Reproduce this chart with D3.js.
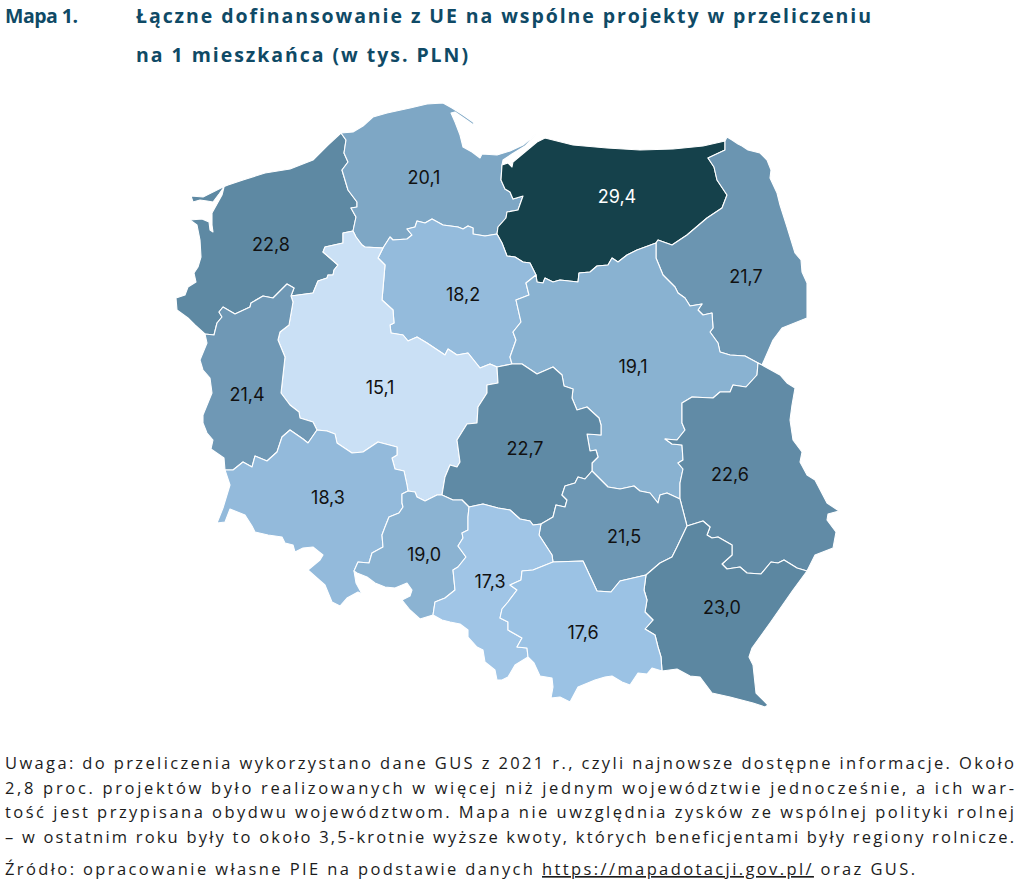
<!DOCTYPE html>
<html lang="pl">
<head>
<meta charset="utf-8">
<script src="https://cdn.jsdelivr.net/npm/d3@7"></script>
<style>
  body { margin: 0; background: #fff; }
  svg { display: block; }
  .title { font-family: "Open Sans", sans-serif; font-weight: 700; font-size: 19.5px; fill: #0f4a66; }
  .note { font-family: "Open Sans", sans-serif; font-size: 16.5px; fill: #1c1c1c; }
  .value { font-family: Inter, sans-serif; font-size: 18px; text-anchor: middle; }
</style>
</head>
<body>
<svg width="1024" height="887"></svg>
<script>
// region values, tys. PLN per inhabitant
var regions = ["zachodniopomorskie", "pomorskie", "warminsko-mazurskie", "podlaskie", "kujawsko-pomorskie", "mazowieckie", "wielkopolskie", "lubuskie", "lodzkie", "lubelskie", "swietokrzyskie", "podkarpackie", "dolnoslaskie", "opolskie", "slaskie", "malopolskie"];
var values = [22.8, 20.1, 29.4, 21.7, 18.2, 19.1, 15.1, 21.4, 22.7, 22.6, 21.5, 23.0, 18.3, 19.0, 17.3, 17.6];

// where each value label sits, in traced map units
var labelAnchors = [[271, 245], [424, 178], [617, 197], [746, 277], [463, 295], [633, 367], [380, 388], [247, 395], [525, 449], [730, 475], [624, 537], [722, 608], [328, 498], [424, 555], [490, 582], [583, 633]];

var zpWest = [[341,133],[328,145],[313,160],[290,169],[265,173],[243,180],[228,185],[223,187],[213,192],[203,197],[191,196],[193,202],[200,200],[207,201],[213,202],[219,194],[224,187],[222,195],[217,204],[212,213],[212,225],[213,232],[210,230],[209,222],[202,219],[190,220],[197,225],[200,240],[201,257],[198,267],[194,273],[196,282],[188,287],[185,295],[176,298],[177,310],[188,318],[195,325],[205,334]];
var pmCoast = [[341,133],[353,132],[363,126],[373,117],[387,113],[410,108],[427,104],[443,103],[452,108],[463,115],[473,122],[475,126],[468,121],[455,112],[451,113],[455,122],[460,135],[463,147],[472,152],[480,158],[482,154],[497,155],[510,151],[523,145],[537,133],[525,146],[512,154],[503,160],[502,165]];
var wmCoast = [[502,165],[508,163],[512,167],[513,162],[525,152],[537,142],[545,138],[573,145],[607,148],[640,150],[673,149],[703,146],[725,141]];
var pdEdge = [[725,141],[727,137],[732,140],[738,144],[742,146],[748,150],[760,153],[767,160],[771,170],[770,178],[777,193],[780,205],[787,227],[795,253],[801,260],[802,272],[807,283],[807,318],[782,328],[773,340],[762,365]];
var pdLu = [[762,365],[758,363]];
var pmZp = [[353,231],[356,217],[351,208],[357,207],[357,202],[348,190],[342,170],[348,162],[344,153],[346,140],[341,133]];
var pmWm = [[502,165],[501,180],[505,189],[510,192],[513,199],[523,196],[518,210],[507,212],[506,218],[498,227],[497,234]];
var pmKp = [[497,234],[485,236],[473,234],[473,228],[468,226],[463,229],[458,227],[443,225],[432,219],[425,223],[417,221],[415,227],[407,229],[412,235],[407,239],[393,240],[390,237],[383,248]];
var pmWp = [[383,248],[365,247],[362,245],[356,237],[353,231]];
var pdWm = [[725,141],[725,150],[708,158],[714,167],[717,180],[727,195],[722,208],[707,218],[687,235],[672,245],[658,240],[656,243]];
var pdMz = [[656,243],[656,258],[663,275],[675,287],[678,293],[685,298],[690,306],[702,304],[698,310],[703,315],[712,313],[713,328],[710,332],[718,343],[720,352],[730,355],[745,356],[758,363]];
var wmMz = [[656,243],[637,250],[627,255],[618,262],[612,258],[608,265],[597,266],[590,272],[579,273],[578,282],[560,280],[553,282],[545,278],[543,283],[537,282],[536,275]];
var wmKp = [[536,275],[530,263],[523,262],[515,257],[507,256],[502,243],[497,234]];
var zpWp = [[353,231],[343,233],[343,243],[325,247],[323,252],[338,265],[334,270],[333,275],[328,275],[327,278],[318,281],[313,293],[291,296]];
var zpLb = [[291,296],[294,288],[287,284],[273,298],[263,296],[251,303],[250,307],[235,314],[223,307],[219,312],[222,317],[217,323],[214,335],[205,334]];
var lbEdge = [[205,334],[207,343],[200,360],[203,370],[210,378],[212,393],[203,415],[203,423],[207,433],[213,440],[211,449],[224,458],[225,470]];
var lbWp = [[291,296],[293,302],[289,325],[280,332],[278,340],[285,357],[281,393],[290,405],[299,412],[300,418],[313,422],[317,430]];
var lbDs = [[317,430],[308,443],[303,439],[290,430],[282,437],[277,452],[267,461],[255,456],[252,467],[243,462],[233,470],[225,470]];
var wpDs = [[317,430],[327,431],[335,434],[337,443],[352,453],[363,452],[378,442],[397,447],[397,455],[392,458],[395,469],[404,471],[407,485],[408,491]];
var wpOp = [[408,491],[415,492],[417,497],[425,501],[437,495],[442,495]];
var wpLd = [[442,495],[445,477],[450,465],[457,467],[460,462],[457,440],[467,424],[477,423],[478,407],[487,393],[487,385],[498,383],[497,367]];
var wpKp = [[383,248],[378,258],[385,265],[382,300],[393,310],[394,323],[390,325],[391,333],[403,335],[408,341],[417,337],[427,343],[445,355],[448,349],[457,355],[468,353],[480,368],[490,364],[497,367]];
var kpLd = [[497,367],[512,364]];
var kpMz = [[536,275],[526,283],[529,295],[516,300],[521,322],[513,332],[516,340],[510,357],[512,364]];
var mzLd = [[512,364],[522,364],[537,374],[553,367],[562,375],[564,386],[573,389],[572,398],[577,410],[587,407],[599,418],[601,425],[601,435],[587,434],[590,451],[596,450],[598,457],[592,463],[592,471]];
var mzSw = [[592,471],[608,487],[620,489],[634,486],[640,491],[650,493],[658,503],[660,495],[667,493],[680,499]];
var mzLu = [[758,363],[757,375],[746,387],[733,385],[730,392],[720,392],[713,398],[692,397],[682,403],[682,423],[685,430],[677,440],[665,439],[672,444],[682,445],[683,460],[678,463],[683,469],[680,483],[680,499]];
var luEdge = [[762,365],[780,375],[787,383],[795,388],[792,405],[790,420],[793,440],[802,452],[800,462],[807,475],[815,480],[827,503],[839,511],[828,514],[827,520],[836,532],[833,548],[815,555],[807,571]];
var luSw = [[680,499],[687,526]];
var luPk = [[687,526],[703,521],[710,527],[707,535],[712,538],[718,537],[732,545],[732,555],[722,564],[727,569],[740,567],[747,573],[761,574],[771,562],[778,563],[784,560],[797,568],[807,571]];
var pkEdge = [[807,571],[793,590],[770,623],[752,648],[749,657],[753,665],[756,693],[768,705],[765,707],[753,703],[730,697],[712,693],[700,677],[690,676],[677,669],[662,671]];
var pkSw = [[687,526],[677,547],[672,557],[660,563],[646,575]];
var pkMa = [[646,575],[644,590],[647,600],[645,612],[653,620],[645,629],[655,635],[658,647],[661,657],[662,671]];
var maEdge = [[662,671],[652,668],[647,674],[638,673],[630,685],[622,682],[612,676],[605,677],[595,680],[578,687],[570,702],[560,697],[551,698],[553,687],[552,678],[540,676],[534,663],[528,657]];
var maSw = [[646,575],[620,581],[611,592],[597,591],[583,561],[553,562]];
var swLd = [[592,471],[585,479],[578,477],[575,483],[565,486],[562,495],[567,500],[565,507],[556,505],[553,517],[541,524]];
var swSl = [[541,524],[539,535],[552,555],[553,562]];
var slMa = [[553,562],[533,570],[522,571],[521,580],[510,585],[517,590],[508,602],[502,609],[500,618],[508,622],[508,630],[522,638],[517,647],[527,648],[528,657]];
var slEdge = [[528,657],[515,665],[508,677],[502,680],[497,680],[495,670],[485,662],[483,650],[477,647],[468,637],[468,630],[460,624],[450,622],[442,620],[433,615]];
var opSl = [[469,507],[468,517],[468,530],[462,533],[463,538],[458,546],[466,557],[458,567],[453,570],[455,590],[445,598],[435,602],[433,615]];
var ldSl = [[469,507],[483,504],[498,508],[510,510],[520,519],[530,521],[533,525],[541,524]];
var ldOp = [[442,495],[453,500],[462,500],[469,507]];
var opDs = [[408,491],[402,494],[402,503],[403,507],[399,513],[389,517],[385,527],[382,535],[383,547],[372,553],[369,563],[358,562],[354,571]];
var opEdge = [[354,571],[357,573],[367,577],[375,583],[385,587],[395,588],[407,583],[412,590],[410,596],[402,600],[410,610],[420,619],[433,615]];
var dsEdge = [[354,571],[356,583],[362,594],[358,592],[347,598],[340,606],[332,602],[325,585],[317,578],[308,570],[320,560],[323,555],[313,547],[303,548],[295,552],[293,545],[285,543],[282,537],[268,535],[255,532],[252,526],[245,515],[230,509],[225,522],[217,523],[223,508],[230,485],[225,470]];

var titleLines = [
  {text: "Mapa 1.", x: 5, y: 23, end: 78},
  {text: "Łączne dofinansowanie z UE na wspólne projekty w przeliczeniu", x: 136, y: 23, end: 871},
  {text: "na 1 mieszkańca (w tys. PLN)", x: 136, y: 62, end: 468}
];
var noteLines = [
  {text: "Uwaga: do przeliczenia wykorzystano dane GUS z 2021 r., czyli najnowsze dostępne informacje. Około", y: 769},
  {text: "2,8 proc. projektów było realizowanych w więcej niż jednym województwie jednocześnie, a ich war-", y: 794},
  {text: "tość jest przypisana obydwu województwom. Mapa nie uwzględnia zysków ze wspólnej polityki rolnej", y: 818},
  {text: "– w ostatnim roku były to około 3,5-krotnie wyższe kwoty, których beneficjentami były regiony rolnicze.", y: 843}
];

function rev(a) { return a.slice().reverse(); }

// rings are walked border by border
var rings = [
  [zpWest, rev(zpLb), rev(zpWp), pmZp],
  [pmCoast, pmWm, pmKp, pmWp, pmZp],
  [wmCoast, pdWm, wmMz, wmKp, rev(pmWm)],
  [pdEdge, pdLu, rev(pdMz), rev(pdWm)],
  [rev(pmKp), rev(wmKp), kpMz, rev(kpLd), rev(wpKp)],
  [wmMz, kpMz, mzLd, mzSw, rev(mzLu), rev(pdMz)],
  [rev(pmWp), wpKp, rev(wpLd), rev(wpOp), rev(wpDs), rev(lbWp), rev(zpWp)],
  [rev(zpLb), lbWp, lbDs, rev(lbEdge)],
  [wpLd, kpLd, mzLd, swLd, rev(ldSl), rev(ldOp)],
  [mzLu, luSw, luPk, rev(luEdge), pdLu],
  [mzSw, luSw, pkSw, maSw, rev(swSl), rev(swLd)],
  [pkSw, pkMa, rev(pkEdge), rev(luPk)],
  [wpDs, opDs, dsEdge, rev(lbDs)],
  [wpOp, ldOp, opSl, rev(opEdge), rev(opDs)],
  [slMa, slEdge, rev(opSl), ldSl, swSl],
  [rev(maSw), pkMa, maEdge, rev(slMa)]
];

var features = regions.map(function(name, i) {
  return {
    type: "Feature",
    properties: {name: name, value: values[i], anchor: labelAnchors[i]},
    geometry: {type: "Polygon", coordinates: [d3.merge(rings[i])]}
  };
});

var svg = d3.select("svg");

var projection = d3.geoIdentity().fitExtent([[176, 103], [839, 707]], {type: "FeatureCollection", features: features});
var path = d3.geoPath(projection);

var color = d3.scaleLinear()
    .domain([15.1, 17.5, 23, 29.4])
    .range(["#cae0f5", "#9cc3e5", "#5c87a1", "#15414b"]);

var fmt = d3.format(".1f");

svg.append("g").selectAll("path")
    .data(features)
    .enter().append("path")
      .attr("d", path)
      .attr("fill", function(d) { return color(d.properties.value); })
      .attr("stroke", "#fff")
      .attr("stroke-width", 1.1)
      .attr("stroke-linejoin", "round");

svg.append("g").selectAll("text")
    .data(features)
    .enter().append("text")
      .attr("class", "value")
      .attr("x", function(d) { return projection(d.properties.anchor)[0]; })
      .attr("y", function(d) { return projection(d.properties.anchor)[1] + 6; })
      .style("fill", function(d) { return d.properties.value > 25 ? "#fff" : "#111"; })
      .text(function(d) { return fmt(d.properties.value).replace(".", ","); });

// stretch a line to its right edge through the letter spacing
function fit(sel, target) {
  sel.each(function() {
    var t = d3.select(this),
        chars = this.getNumberOfChars() - 1,
        len = this.getComputedTextLength();
    t.style("letter-spacing", (target - len) / chars + "px");
  });
}

svg.append("g").selectAll("text")
    .data(titleLines)
    .enter().append("text")
      .attr("class", "title")
      .attr("x", function(d) { return d.x; })
      .attr("y", function(d) { return d.y; })
      .text(function(d) { return d.text; })
      .each(function(d) { fit(d3.select(this), d.end - d.x); });

svg.append("g").selectAll("text")
    .data(noteLines)
    .enter().append("text")
      .attr("class", "note")
      .attr("x", 5)
      .attr("y", function(d) { return d.y; })
      .text(function(d) { return d.text; })
      .each(function() { fit(d3.select(this), 1009); });

var source = svg.append("text").attr("class", "note").attr("x", 5).attr("y", 875);
source.append("tspan").text("Źródło: opracowanie własne PIE na podstawie danych ");
source.append("tspan").style("text-decoration", "underline").text("https://mapadotacji.gov.pl/");
source.append("tspan").text(" oraz GUS.");
fit(source, 910);
</script>
</body>
</html>
